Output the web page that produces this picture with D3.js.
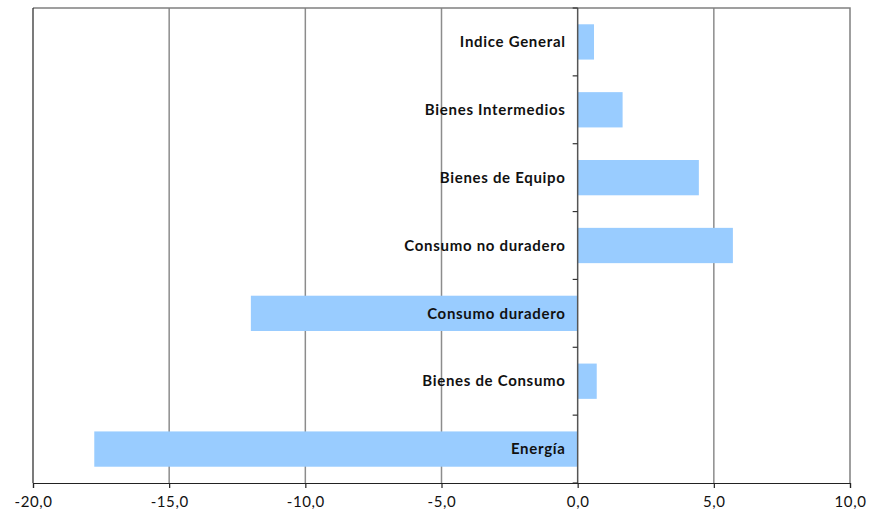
<!DOCTYPE html>
<html>
<head>
<meta charset="utf-8">
<script src="https://cdn.jsdelivr.net/npm/d3@7"></script>
<style>
  body { margin: 0; background: #fff; }
  text { font-family: Lato, "Open Sans", sans-serif; }
</style>
</head>
<body>
<script>
const width = 872
const height = 525

// data, top to bottom
const categories = ["Indice General", "Bienes Intermedios", "Bienes de Equipo",
    "Consumo no duradero", "Consumo duradero", "Bienes de Consumo", "Energía"];
const values = [0.6, 1.65, 4.45, 5.7, -12.0, 0.7, -17.75];
const xTicks = [-20, -15, -10, -5, 0, 5, 10];

const margin = {top: 8, right: 22, bottom: 42, left: 33};

const svg = d3.select("body").append("svg")
    .attr("width", width)
    .attr("height", height);

const x = d3.scaleLinear()
    .domain([-20, 10])
    .range([margin.left, width - margin.right]);

const y = d3.scaleBand()
    .domain(categories)
    .range([margin.top, height - margin.bottom])
    .paddingInner(0.48)
    .paddingOuter(0.24);

// comma decimal, plain hyphen for minus
const fmt = d => d.toFixed(1).replace(".", ",");

// vertical gridlines
svg.append("g")
    .selectAll("line")
    .data(xTicks.filter(d => d != -20 && d != 0 && d != 10))
    .enter()
    .append("line")
    .attr("x1", d => x(d)).attr("x2", d => x(d))
    .attr("y1", margin.top).attr("y2", height - margin.bottom)
    .attr("stroke", "#8c8c8c")
    .attr("stroke-width", 1.5);

// plot border (top + right)
svg.append("path")
    .attr("d", `M${x(-20)},${margin.top}H${x(10)}V${height - margin.bottom}`)
    .attr("fill", "none")
    .attr("stroke", "#808080")
    .attr("stroke-width", 1.5);

// bars
svg.append("g")
    .selectAll("rect")
    .data(values)
    .enter()
    .append("rect")
    .attr("x", d => x(Math.min(0, d)))
    .attr("width", d => Math.abs(x(d) - x(0)))
    .attr("y", (d, i) => y(categories[i]))
    .attr("height", y.bandwidth())
    .attr("fill", "#99ccff");

// left axis line
svg.append("line")
    .attr("x1", x(-20)).attr("x2", x(-20))
    .attr("y1", margin.top).attr("y2", height - margin.bottom)
    .attr("stroke", "#222").attr("stroke-width", 1.2);

// zero axis with category ticks
const yEdges = d3.range(categories.length + 1).map(i => margin.top + i * (height - margin.top - margin.bottom) / categories.length);
svg.append("line")
    .attr("x1", x(0)).attr("x2", x(0))
    .attr("y1", margin.top).attr("y2", height - margin.bottom)
    .attr("stroke", "#555").attr("stroke-width", 1.5);
svg.append("g")
    .selectAll("line")
    .data(yEdges)
    .enter()
    .append("line")
    .attr("x1", x(0) - 5).attr("x2", x(0))
    .attr("y1", d => d).attr("y2", d => d)
    .attr("stroke", "#333").attr("stroke-width", 1.2);

// category labels
svg.append("g")
    .selectAll("text")
    .data(categories)
    .enter()
    .append("text")
    .attr("x", x(0) - 12)
    .attr("y", d => y(d) + y.bandwidth() / 2)
    .attr("dy", "0.35em")
    .attr("text-anchor", "end")
    .attr("font-size", 15)
    .attr("font-weight", "bold")
    .attr("letter-spacing", "0.7px")
    .attr("fill", "#111")
    .text(d => d);

// bottom axis
const xAxis = svg.append("g")
    .attr("transform", `translate(0,${height - margin.bottom})`)
    .call(d3.axisBottom(x).tickValues(xTicks).tickFormat(fmt).tickSize(5).tickPadding(8));
xAxis.select(".domain").attr("stroke", "#222").attr("stroke-width", 1.2);
xAxis.selectAll(".tick line").attr("stroke", "#222").attr("stroke-width", 1.2);
xAxis.selectAll("text")
    .attr("font-size", 15)
    .attr("font-family", "Lato, sans-serif")
    .attr("letter-spacing", "0.6px")
    .attr("fill", "#111");
</script>
</body>
</html>
